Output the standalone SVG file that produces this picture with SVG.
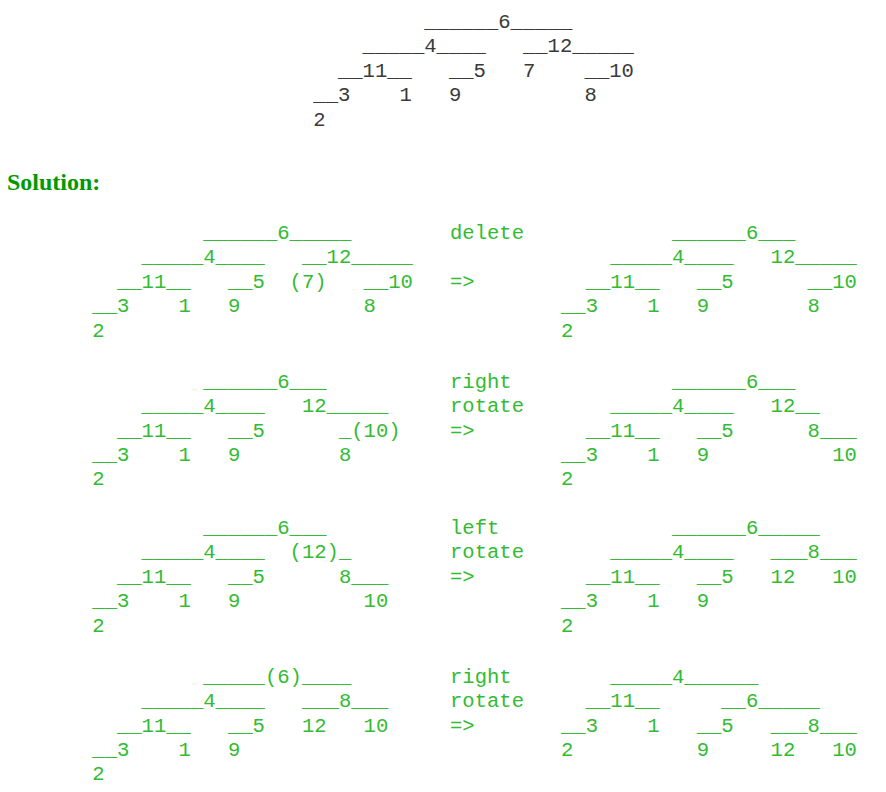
<svg xmlns="http://www.w3.org/2000/svg" width="886" height="792" viewBox="0 0 886 792">
<style>
  .m { font-family: "Liberation Mono", "Courier New", monospace; font-size: 20.56px; }
  .q { fill: #3a3a3a; }
  .g { fill: #33bb33; }
  .h { font-family: "Liberation Serif", "Times New Roman", serif; font-size: 24px; font-weight: bold; fill: #009900; }
</style>
<rect width="886" height="792" fill="#ffffff"/>
<g id="question-tree" class="m q">
  <text x="313.3" y="28">&#160;&#160;&#160;&#160;&#160;&#160;&#160;&#160;&#160;______6_____</text>
  <text x="313.3" y="52.4">&#160;&#160;&#160;&#160;_____4____&#160;&#160;&#160;__12_____</text>
  <text x="313.3" y="76.8">&#160;&#160;__11__&#160;&#160;&#160;__5&#160;&#160;&#160;7&#160;&#160;&#160;&#160;__10</text>
  <text x="313.3" y="101.2">__3&#160;&#160;&#160;&#160;1&#160;&#160;&#160;9&#160;&#160;&#160;&#160;&#160;&#160;&#160;&#160;&#160;&#160;8</text>
  <text x="313.3" y="125.6">2</text>
</g>
<g id="solution-heading">
  <text class="h" x="7" y="190">Solution:</text>
</g>
<g id="step1-before" class="m g">
  <text x="92.3" y="239">&#160;&#160;&#160;&#160;&#160;&#160;&#160;&#160;&#160;______6_____</text>
  <text x="92.3" y="263.4">&#160;&#160;&#160;&#160;_____4____&#160;&#160;&#160;__12_____</text>
  <text x="92.3" y="287.8">&#160;&#160;__11__&#160;&#160;&#160;__5&#160;&#160;(7)&#160;&#160;&#160;__10</text>
  <text x="92.3" y="312.2">__3&#160;&#160;&#160;&#160;1&#160;&#160;&#160;9&#160;&#160;&#160;&#160;&#160;&#160;&#160;&#160;&#160;&#160;8</text>
  <text x="92.3" y="336.6">2</text>
</g>
<g id="step1-label" class="m g">
  <text x="450" y="239">delete</text>
  <text x="450" y="287.8">=&gt;</text>
</g>
<g id="step1-after" class="m g">
  <text x="561" y="239">&#160;&#160;&#160;&#160;&#160;&#160;&#160;&#160;&#160;______6___</text>
  <text x="561" y="263.4">&#160;&#160;&#160;&#160;_____4____&#160;&#160;&#160;12_____</text>
  <text x="561" y="287.8">&#160;&#160;__11__&#160;&#160;&#160;__5&#160;&#160;&#160;&#160;&#160;&#160;__10</text>
  <text x="561" y="312.2">__3&#160;&#160;&#160;&#160;1&#160;&#160;&#160;9&#160;&#160;&#160;&#160;&#160;&#160;&#160;&#160;8</text>
  <text x="561" y="336.6">2</text>
</g>
<g id="step2-before" class="m g">
  <text x="92.3" y="387.7">&#160;&#160;&#160;&#160;&#160;&#160;&#160;&#160;&#160;______6___</text>
  <text x="92.3" y="412.1">&#160;&#160;&#160;&#160;_____4____&#160;&#160;&#160;12_____</text>
  <text x="92.3" y="436.5">&#160;&#160;__11__&#160;&#160;&#160;__5&#160;&#160;&#160;&#160;&#160;&#160;_(10)</text>
  <text x="92.3" y="460.9">__3&#160;&#160;&#160;&#160;1&#160;&#160;&#160;9&#160;&#160;&#160;&#160;&#160;&#160;&#160;&#160;8</text>
  <text x="92.3" y="485.3">2</text>
</g>
<g id="step2-label" class="m g">
  <text x="450" y="387.7">right</text>
  <text x="450" y="412.1">rotate</text>
  <text x="450" y="436.5">=&gt;</text>
</g>
<g id="step2-after" class="m g">
  <text x="561" y="387.7">&#160;&#160;&#160;&#160;&#160;&#160;&#160;&#160;&#160;______6___</text>
  <text x="561" y="412.1">&#160;&#160;&#160;&#160;_____4____&#160;&#160;&#160;12__</text>
  <text x="561" y="436.5">&#160;&#160;__11__&#160;&#160;&#160;__5&#160;&#160;&#160;&#160;&#160;&#160;8___</text>
  <text x="561" y="460.9">__3&#160;&#160;&#160;&#160;1&#160;&#160;&#160;9&#160;&#160;&#160;&#160;&#160;&#160;&#160;&#160;&#160;&#160;10</text>
  <text x="561" y="485.3">2</text>
</g>
<g id="step3-before" class="m g">
  <text x="92.3" y="534">&#160;&#160;&#160;&#160;&#160;&#160;&#160;&#160;&#160;______6___</text>
  <text x="92.3" y="558.4">&#160;&#160;&#160;&#160;_____4____&#160;&#160;(12)_</text>
  <text x="92.3" y="582.8">&#160;&#160;__11__&#160;&#160;&#160;__5&#160;&#160;&#160;&#160;&#160;&#160;8___</text>
  <text x="92.3" y="607.2">__3&#160;&#160;&#160;&#160;1&#160;&#160;&#160;9&#160;&#160;&#160;&#160;&#160;&#160;&#160;&#160;&#160;&#160;10</text>
  <text x="92.3" y="631.6">2</text>
</g>
<g id="step3-label" class="m g">
  <text x="450" y="534">left</text>
  <text x="450" y="558.4">rotate</text>
  <text x="450" y="582.8">=&gt;</text>
</g>
<g id="step3-after" class="m g">
  <text x="561" y="534">&#160;&#160;&#160;&#160;&#160;&#160;&#160;&#160;&#160;______6_____</text>
  <text x="561" y="558.4">&#160;&#160;&#160;&#160;_____4____&#160;&#160;&#160;___8___</text>
  <text x="561" y="582.8">&#160;&#160;__11__&#160;&#160;&#160;__5&#160;&#160;&#160;12&#160;&#160;&#160;10</text>
  <text x="561" y="607.2">__3&#160;&#160;&#160;&#160;1&#160;&#160;&#160;9</text>
  <text x="561" y="631.6">2</text>
</g>
<g id="step4-before" class="m g">
  <text x="92.3" y="682.7">&#160;&#160;&#160;&#160;&#160;&#160;&#160;&#160;&#160;_____(6)____</text>
  <text x="92.3" y="707.1">&#160;&#160;&#160;&#160;_____4____&#160;&#160;&#160;___8___</text>
  <text x="92.3" y="731.5">&#160;&#160;__11__&#160;&#160;&#160;__5&#160;&#160;&#160;12&#160;&#160;&#160;10</text>
  <text x="92.3" y="755.9">__3&#160;&#160;&#160;&#160;1&#160;&#160;&#160;9</text>
  <text x="92.3" y="780.3">2</text>
</g>
<g id="step4-label" class="m g">
  <text x="450" y="682.7">right</text>
  <text x="450" y="707.1">rotate</text>
  <text x="450" y="731.5">=&gt;</text>
</g>
<g id="step4-after" class="m g">
  <text x="561" y="682.7">&#160;&#160;&#160;&#160;_____4______</text>
  <text x="561" y="707.1">&#160;&#160;__11__&#160;&#160;&#160;&#160;&#160;__6_____</text>
  <text x="561" y="731.5">__3&#160;&#160;&#160;&#160;1&#160;&#160;&#160;__5&#160;&#160;&#160;___8___</text>
  <text x="561" y="755.9">2&#160;&#160;&#160;&#160;&#160;&#160;&#160;&#160;&#160;&#160;9&#160;&#160;&#160;&#160;&#160;12&#160;&#160;&#160;10</text>
</g>
</svg>
